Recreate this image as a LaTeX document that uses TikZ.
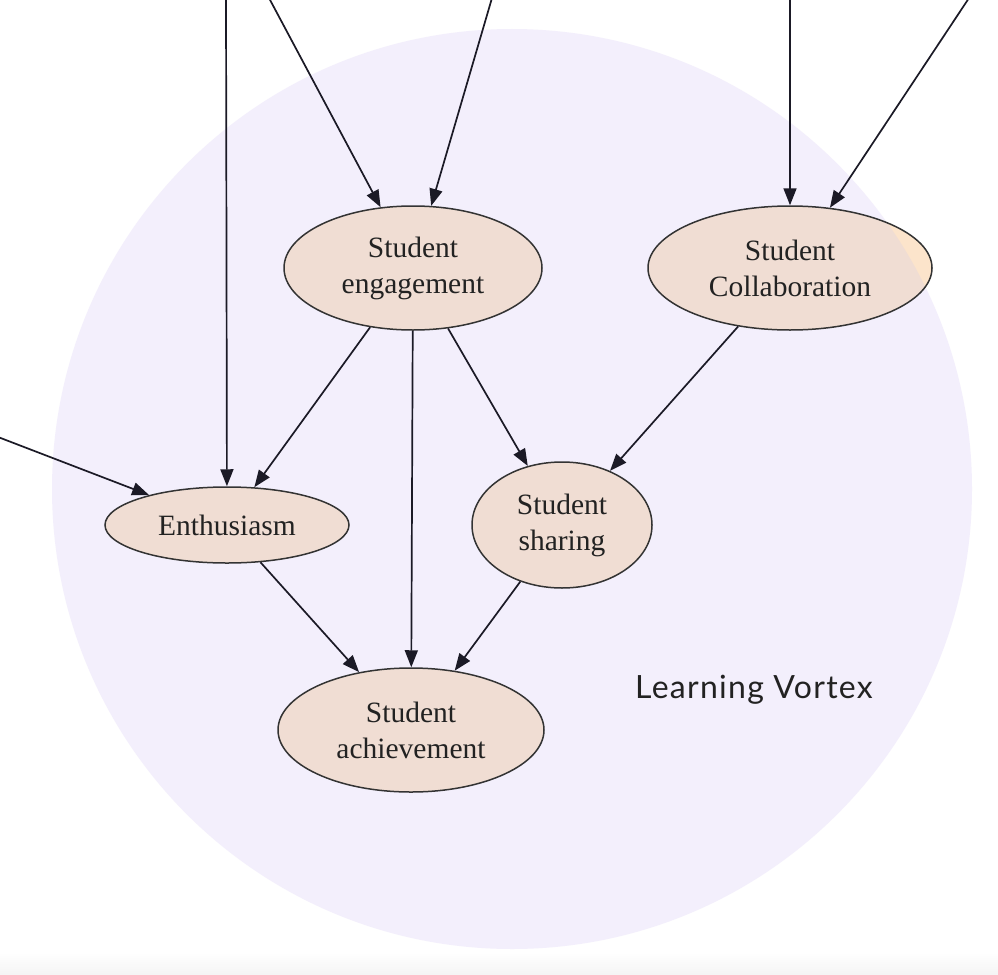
\documentclass[tikz,border=0pt]{standalone}
\usepackage{fontspec}
\setmainfont{Liberation Serif}
\newfontfamily\labelfont[LetterSpace=4]{Lato}
\usetikzlibrary{arrows.meta,shapes.geometric}
\definecolor{vortex}{HTML}{F3EFFC}
\definecolor{nodepink}{HTML}{F0DDD3}
\definecolor{nodeorange}{HTML}{FCE4CB}
\definecolor{edgecol}{HTML}{1B1A26}
\definecolor{outline}{HTML}{333333}
\definecolor{txt}{HTML}{222222}
\tikzset{
  ell/.style={ellipse, draw=outline, line width=1.5pt, fill=nodepink, inner sep=0pt,
    align=center, text=txt, font=\fontsize{29.5}{36}\selectfont},
  edge/.style={draw=edgecol, line width=1.7pt, -{Triangle[length=17pt,width=13pt]}},
}
\begin{document}
\begin{tikzpicture}[x=1pt,y=-1pt]
\useasboundingbox (0,0) rectangle (998,974);
\clip (0,0) rectangle (998,974);
\fill[white] (0,0) rectangle (998,974);
\shade[top color=white,bottom color=black!4] (0,952) rectangle (998,974);
\coordinate (vc) at (512,489);
\fill[vortex] (vc) circle[radius=460pt];

\node[anchor=base west, inner sep=0pt, text=txt, font=\labelfont\fontsize{32}{38}\selectfont] (lbl) at (635,698) {Learning Vortex};

\node[ell, minimum width=258pt, minimum height=124pt] (eng) at (413,268) {Student\\engagement};
\node[ell, minimum width=284pt, minimum height=124pt,
  path picture={\fill[nodeorange] (path picture bounding box.north west) rectangle (path picture bounding box.south east);
                \fill[nodepink] (vc) circle[radius=460pt];}] (col) at (790,268) {Student\\Collaboration};
\node[ell, minimum width=244pt, minimum height=76pt] (enth) at (227,525) {Enthusiasm};
\node[ell, minimum width=180pt, minimum height=126pt] (share) at (562,525) {Student\\sharing};
\node[ell, minimum width=266pt, minimum height=124pt] (ach) at (411,730) {Student\\achievement};

\coordinate (t1) at (226,-2);
\coordinate (t2) at (269,-2);
\coordinate (t3) at (492,-2);
\coordinate (t4) at (790,-2);
\coordinate (t5) at (969,-2);
\coordinate (t6) at (-2,437);

\draw[edge] (t1) -- (enth);
\draw[edge] (t2) -- (eng);
\draw[edge] (t3) -- (eng);
\draw[edge] (t4) -- (col);
\draw[edge] (t5) -- (col);
\draw[edge] (t6) -- (enth);
\draw[edge] (eng) -- (enth);
\draw[edge] (eng) -- (ach);
\draw[edge] (eng) -- (share);
\draw[edge] (col) -- (share);
\draw[edge] (enth) -- (ach);
\draw[edge] (share) -- (ach);
\end{tikzpicture}
\end{document}
